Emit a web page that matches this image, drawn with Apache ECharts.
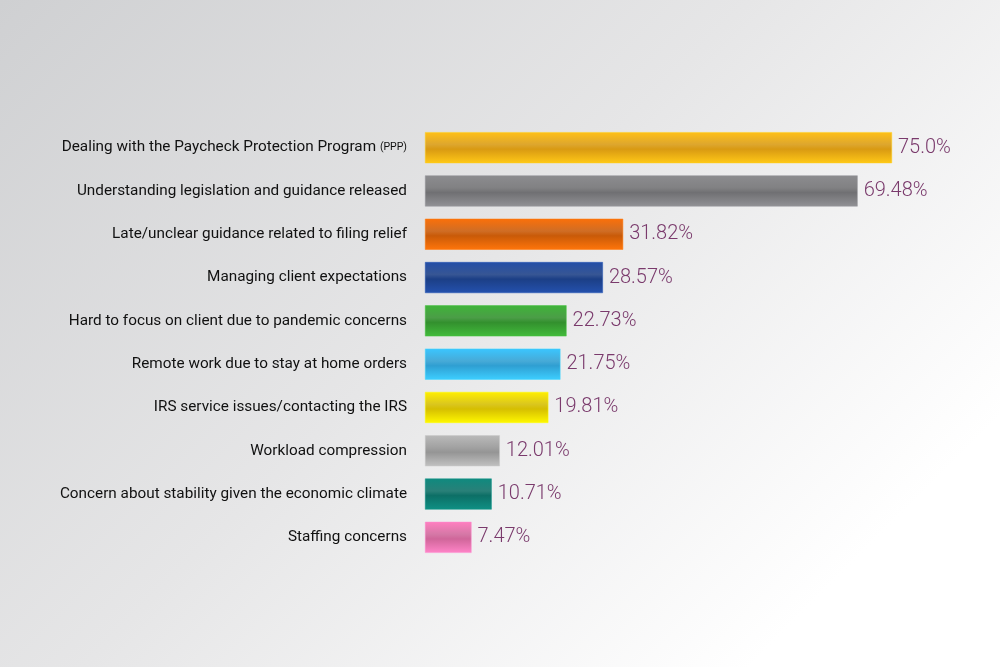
<!DOCTYPE html>
<html><head><meta charset="utf-8">
<script src="https://cdn.jsdelivr.net/npm/echarts@6/dist/echarts.min.js"></script>
<style>
html,body{margin:0;padding:0}
#chart{width:1000px;height:667px;background:linear-gradient(135deg,#cfd0d2 0%,#e6e6e7 45%,#ffffff 85%)}
</style></head>
<body><div id="chart"></div>
<script>
var categories = [
  'Dealing with the Paycheck Protection Program {s|(PPP)}',
  'Understanding legislation and guidance released',
  'Late/unclear guidance related to filing relief',
  'Managing client expectations',
  'Hard to focus on client due to pandemic concerns',
  'Remote work due to stay at home orders',
  'IRS service issues/contacting the IRS',
  'Workload compression',
  'Concern about stability given the economic climate',
  'Staffing concerns'
];
var values = [75.0, 69.48, 31.82, 28.57, 22.73, 21.75, 19.81, 12.01, 10.71, 7.47];
var labels = ['75.0%', '69.48%', '31.82%', '28.57%', '22.73%', '21.75%', '19.81%', '12.01%', '10.71%', '7.47%'];
var colors = ['#d99a12', '#707073', '#c95a08', '#1c3f86', '#33902e', '#2f9fd2', '#d6bf00', '#959595', '#0c6f66', '#d0669a'];

function shade(c){
  return new echarts.graphic.LinearGradient(0,0,0,1,[
    {offset:0, color: echarts.color.lift(c,-0.25)},
    {offset:0.4, color: echarts.color.lift(c,0.12)},
    {offset:0.55, color: c},
    {offset:1, color: echarts.color.lift(c,-0.3)}
  ]);
}

var myChart = echarts.init(document.getElementById('chart'));
var option = {
  animation:false,
  grid:{left:425, right:108, top:126, height:433},
  xAxis:{type:'value', min:0, max:75, show:false},
  yAxis:{
    type:'category', inverse:true, data:categories,
    axisLine:{show:false}, axisTick:{show:false},
    axisLabel:{margin:18, color:'#111', fontSize:15.3, fontFamily:'Roboto',
      rich:{s:{fontSize:10.5, color:'#111', fontFamily:'Roboto'}}}
  },
  series:[{
    type:'bar', barWidth:31,
    data: values.map(function(v,i){
      return {value:v, itemStyle:{color:shade(colors[i]), borderColor:echarts.color.lift(colors[i],-0.35), borderWidth:0.5}};
    }),
    label:{show:true, position:'right', distance:6, color:'#7a3a6c', fontSize:20, fontFamily:'Roboto', fontWeight:300,
      formatter:function(p){return labels[p.dataIndex];}}
  }]
};
myChart.setOption(option);
</script></body></html>
